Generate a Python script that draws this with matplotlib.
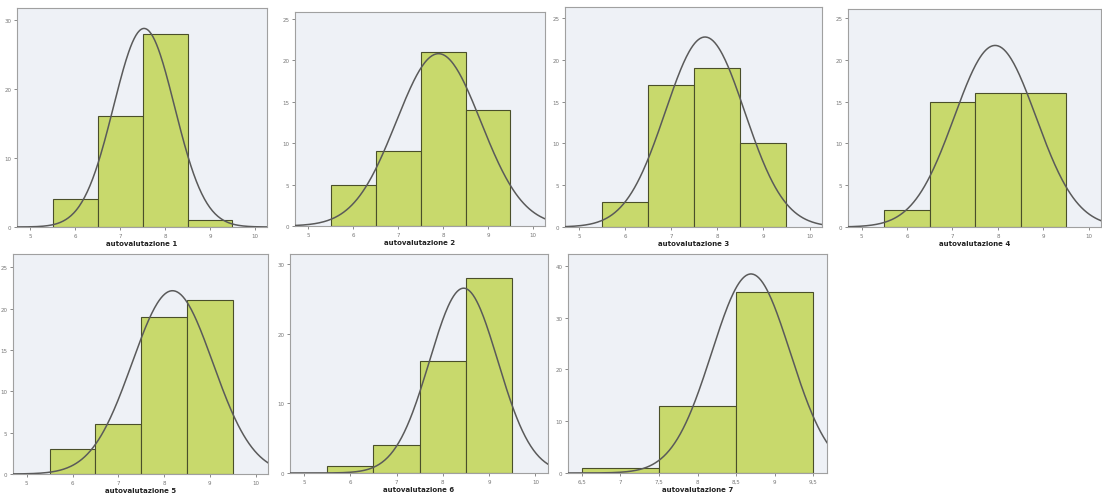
import numpy as np
import matplotlib
matplotlib.use("Agg")
import matplotlib.pyplot as plt

# valutazioni (valori interi) e frequenze per ciascun istogramma
values_1 = [6, 7, 8, 9]
counts_1 = [4, 16, 28, 1]
values_2 = [6, 7, 8, 9]
counts_2 = [5, 9, 21, 14]
values_3 = [6, 7, 8, 9]
counts_3 = [3, 17, 19, 10]
values_4 = [6, 7, 8, 9]
counts_4 = [2, 15, 16, 16]
values_5 = [6, 7, 8, 9]
counts_5 = [3, 6, 19, 21]
values_6 = [6, 7, 8, 9]
counts_6 = [1, 4, 16, 28]
values_7 = [7, 8, 9]
counts_7 = [1, 13, 35]

titles = ["autovalutazione %d" % i for i in range(1, 8)]
xticks_std = [5, 6, 7, 8, 9, 10]
xticks_7 = [6.5, 7, 7.5, 8, 8.5, 9, 9.5]
xticklabels_7 = ["6,5", "7", "7,5", "8", "8,5", "9", "9,5"]
yticks_list = [[0, 10, 20, 30], [0, 5, 10, 15, 20, 25], [0, 5, 10, 15, 20, 25],
               [0, 5, 10, 15, 20, 25], [0, 5, 10, 15, 20, 25], [0, 10, 20, 30],
               [0, 10, 20, 30, 40]]

data = [(values_1, counts_1), (values_2, counts_2), (values_3, counts_3),
        (values_4, counts_4), (values_5, counts_5), (values_6, counts_6),
        (values_7, counts_7)]

# axes positions in pixels: left, right, top, bottom
boxes = [(17, 267, 9, 228), (295, 545, 13, 227), (565, 822, 8, 228),
         (848, 1101, 10, 228), (13, 268, 255, 475), (290, 548, 255, 474),
         (568, 827, 255, 474)]
ylims = [31.7, 25.8, 26.3, 26.1, 26.6, 31.4, 42.3]

W, H = 1102, 502
fig = plt.figure(figsize=(W / 100, H / 100), dpi=100)
fig.patch.set_facecolor("white")

bar_color = "#c8d96c"
bg_color = "#eef1f6"

for i, ((vals, cnts), (l, r, t, b)) in enumerate(zip(data, boxes)):
    ax = fig.add_axes([l / W, 1 - b / H, (r - l) / W, (b - t) / H])
    ax.set_facecolor(bg_color)
    vals = np.array(vals, dtype=float)
    cnts = np.array(cnts, dtype=float)
    ax.bar(vals, cnts, width=1.0, color=bar_color, edgecolor="#4a4f2a",
           linewidth=0.8, zorder=2)

    # normal curve fitted to the data (as SPSS does)
    n = cnts.sum()
    mu = (vals * cnts).sum() / n
    sd = np.sqrt(((vals - mu) ** 2 * cnts).sum() / (n - 1))
    if i == 6:
        xs = np.linspace(6.2, 9.8, 300)
        ax.set_xlim(6.32, 9.68)
        ax.set_xticks(xticks_7)
        ax.set_xticklabels(xticklabels_7)
    else:
        xs = np.linspace(4.5, 10.5, 300)
        ax.set_xlim(4.7, 10.27)
        ax.set_xticks(xticks_std)
    ys = n / (sd * np.sqrt(2 * np.pi)) * np.exp(-0.5 * ((xs - mu) / sd) ** 2)
    ax.plot(xs, ys, color="#5a5a5a", linewidth=1.1, zorder=3)

    ax.set_ylim(0, ylims[i])
    ax.set_yticks(yticks_list[i])
    ax.tick_params(labelsize=4, length=2.5, width=0.6, colors="#777777",
                   pad=1.5)
    for s in ax.spines.values():
        s.set_color("#a0a0a0")
        s.set_linewidth(0.8)
    ax.set_xlabel(titles[i], fontsize=5, fontweight="bold", labelpad=2,
                  color="#222222")

fig.savefig("out.png", dpi=100, facecolor="white")
